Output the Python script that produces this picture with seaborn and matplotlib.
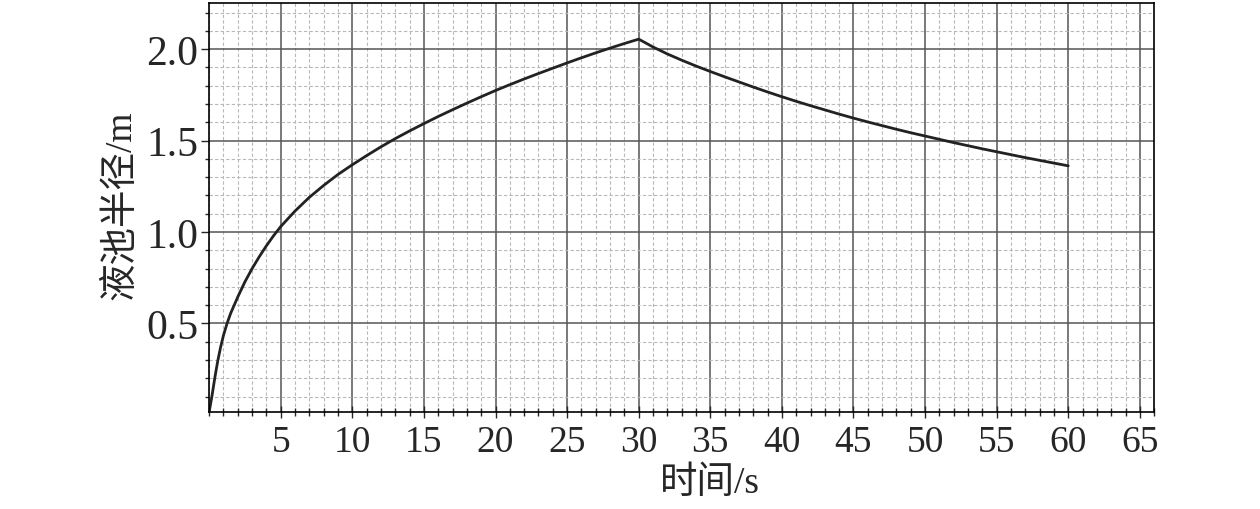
import matplotlib
matplotlib.use("Agg")
import matplotlib.pyplot as plt
from matplotlib.ticker import MultipleLocator, FixedLocator
import seaborn as sns
import pandas as pd

# pool radius over time
time_s = [0, 0.1, 0.2, 0.4, 0.6, 0.8, 1.0, 1.25, 1.5, 2.0, 2.5, 3.0, 3.5, 4.0, 4.5, 5,
          6, 7, 8, 9, 10, 11, 12, 13, 14, 15, 16, 17, 18, 19, 20, 21, 22, 23, 24, 25,
          26, 27, 28, 29, 30, 31, 32, 33, 34, 35, 36, 37, 38, 39, 40,
          41, 42, 43, 44, 45, 46, 47, 48, 49, 50, 51, 52, 53, 54, 55,
          56, 57, 58, 59, 60]
radius_m = [0.015, 0.06, 0.105, 0.205, 0.295, 0.37, 0.435, 0.50, 0.555, 0.645, 0.728, 0.80,
            0.865, 0.925, 0.98, 1.03,
            1.115, 1.19, 1.255, 1.315, 1.368, 1.418, 1.466, 1.511, 1.553, 1.593, 1.632,
            1.669, 1.705, 1.740, 1.774, 1.806, 1.837, 1.867, 1.896, 1.925, 1.953, 1.980,
            2.006, 2.031, 2.055,
            2.012, 1.974, 1.940, 1.908, 1.878, 1.849, 1.821, 1.793, 1.766, 1.740,
            1.715, 1.691, 1.668, 1.645, 1.623, 1.602, 1.582, 1.562, 1.543, 1.525,
            1.507, 1.489, 1.472, 1.455, 1.439, 1.423, 1.407, 1.392, 1.377, 1.362]

x_ticks = [5, 10, 15, 20, 25, 30, 35, 40, 45, 50, 55, 60, 65]
y_ticks = [0.5, 1.0, 1.5, 2.0]

df = pd.DataFrame({"t": time_s, "r": radius_m})

sns.set_style("ticks")
plt.rcParams["font.family"] = ["Liberation Serif", "Noto Sans CJK SC"]

fig = plt.figure(figsize=(12.6, 5.1), dpi=100)
ax = fig.add_axes([0.166, 0.19, 0.75, 0.803])

sns.lineplot(data=df, x="t", y="r", ax=ax, color="#222222", linewidth=2.0)

ax.set_xlim(0, 66)
ax.set_ylim(0.015, 2.255)
ax.xaxis.set_major_locator(FixedLocator(x_ticks))
ax.yaxis.set_major_locator(FixedLocator(y_ticks))
ax.xaxis.set_minor_locator(MultipleLocator(1))
ax.yaxis.set_minor_locator(MultipleLocator(0.1))
ax.set_yticklabels([f"{v:.1f}" for v in y_ticks])

ax.grid(which="major", color="#555555", linewidth=1.1, linestyle="-")
ax.grid(which="minor", color="#b8b8b8", linewidth=0.8, linestyle=(0, (3, 2)))
ax.set_axisbelow(True)

for s in ax.spines.values():
    s.set_visible(True)
    s.set_color("black")
    s.set_linewidth(1.2)

ax.tick_params(axis="y", which="major", direction="out", length=6, width=1, labelsize=30, pad=2)
ax.tick_params(axis="y", which="minor", direction="out", length=3, width=1)
ax.tick_params(axis="x", which="major", direction="inout", length=8, width=1, labelsize=27, pad=5)
ax.tick_params(axis="x", which="minor", direction="inout", length=6, width=1)

ax.set_xlabel("时间/s", fontsize=27)
ax.set_ylabel("液池半径/m", fontsize=27)
ax.xaxis.set_label_coords(0.53, -0.13)
ax.yaxis.set_label_coords(-0.075, 0.507)

fig.savefig("out.png", dpi=100)
